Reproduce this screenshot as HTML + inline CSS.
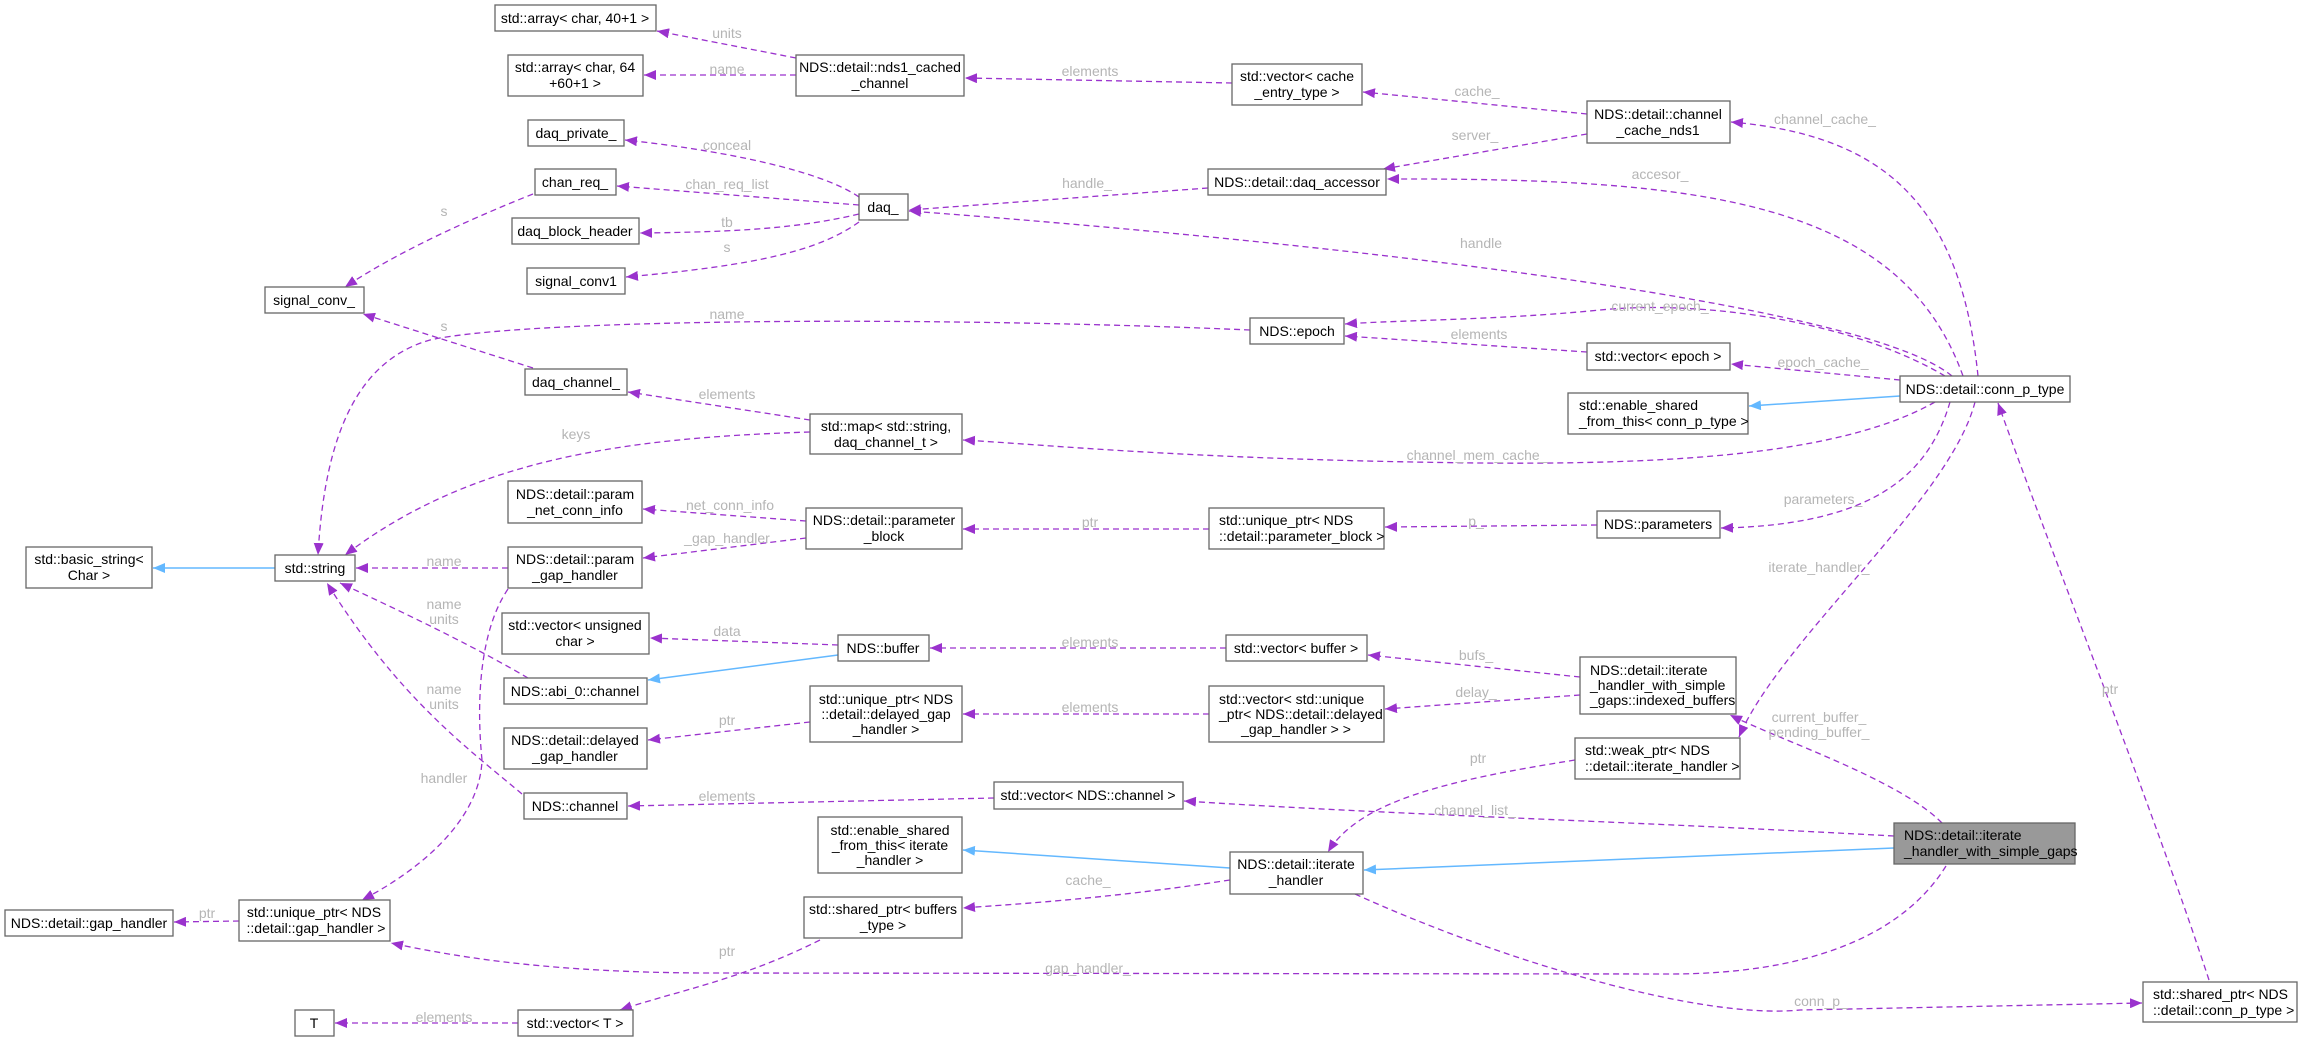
<!DOCTYPE html>
<html><head><meta charset="utf-8"><style>
html,body{margin:0;padding:0;background:#fff;}
svg{display:block;}
.b{fill:#fff;stroke:#666;stroke-width:1.3;}
.g{fill:#999;stroke:#666;stroke-width:1.3;}
.t{font-family:"Liberation Sans",Arial,sans-serif;font-size:14px;fill:#000;}
.c{text-anchor:middle;}
.l{font-family:"Liberation Sans",Arial,sans-serif;font-size:14px;fill:#b5b5b5;text-anchor:middle;}
.e{fill:none;stroke:#9a32cd;stroke-width:1.3;stroke-dasharray:6,4;marker-end:url(#pa);}
.i{fill:none;stroke:#63b8ff;stroke-width:1.5;marker-end:url(#ba);}
</style></head><body>
<svg width="2303" height="1042" viewBox="0 0 2303 1042" xmlns="http://www.w3.org/2000/svg">
<defs>
<marker id="pa" markerUnits="userSpaceOnUse" markerWidth="13" markerHeight="10" refX="12" refY="5" orient="auto"><path d="M0,0 L12,5 L0,10 z" fill="#9a32cd"/></marker>
<marker id="ba" markerUnits="userSpaceOnUse" markerWidth="13" markerHeight="10" refX="12" refY="5" orient="auto"><path d="M0,0 L12,5 L0,10 z" fill="#63b8ff"/></marker>
</defs>

<!-- edges -->
<path class="e" d="M796,58 L657,31"/>
<path class="e" d="M796,75 L644,75"/>
<path class="e" d="M1232,83 L965,78"/>
<path class="e" d="M1587,114 L1363,92"/>
<path class="e" d="M1587,134 L1383,169"/>
<path class="e" d="M1978,376 C1960,200 1880,135 1731,122"/>
<path class="e" d="M1963,376 C1900,200 1700,178 1387,179"/>
<path class="e" d="M1208,188 L909,210"/>
<path class="e" d="M1952,376 C1860,300 1300,240 909,211"/>
<path class="e" d="M859,197 C820,170 720,150 625,140"/>
<path class="e" d="M859,205 L617,186"/>
<path class="e" d="M859,214 C800,228 740,232 640,233"/>
<path class="e" d="M859,222 C820,250 760,265 626,277"/>
<path class="e" d="M533,194 C480,215 400,250 345,287"/>
<path class="e" d="M533,368 L363,314"/>
<path class="e" d="M810,420 L628,392"/>
<path class="e" d="M810,432 C620,438 470,460 345,555"/>
<path class="e" d="M1250,330 C900,315 520,320 430,340 C360,360 325,430 318,555"/>
<path class="e" d="M1945,376 C1850,320 1700,300 1600,310 S1400,320 1345,324"/>
<path class="e" d="M1587,352 L1345,336"/>
<path class="e" d="M1900,380 L1731,364"/>
<path class="i" d="M1900,396 L1749,406"/>
<path class="e" d="M1935,402 C1850,450 1700,465 1480,463 C1200,460 1050,445 963,440"/>
<path class="e" d="M1950,402 C1930,470 1880,525 1721,528"/>
<path class="e" d="M1597,525 L1385,527"/>
<path class="e" d="M1209,529 L963,529"/>
<path class="e" d="M806,521 L643,509"/>
<path class="e" d="M806,538 L643,558"/>
<path class="e" d="M508,568 L356,568"/>
<path class="i" d="M275,568 L153,568"/>
<path class="e" d="M508,589 C480,630 476,700 482,760 C480,820 420,870 362,900"/>
<path class="e" d="M528,678 C480,650 420,620 340,583"/>
<path class="e" d="M522,794 C470,750 400,700 327,583"/>
<path class="e" d="M838,645 L650,638"/>
<path class="i" d="M838,655 L648,680"/>
<path class="e" d="M1226,648 L930,648"/>
<path class="e" d="M1580,677 L1368,655"/>
<path class="e" d="M1580,695 L1385,709"/>
<path class="e" d="M1209,714 L963,714"/>
<path class="e" d="M810,722 L648,740"/>
<path class="e" d="M1975,402 C1950,500 1780,640 1739,737"/>
<path class="e" d="M1942,823 C1900,780 1780,740 1730,715"/>
<path class="e" d="M1575,760 C1450,780 1360,800 1328,852"/>
<path class="e" d="M1894,836 C1600,820 1400,815 1184,801"/>
<path class="e" d="M994,798 L628,806"/>
<path class="i" d="M1894,848 L1364,870"/>
<path class="i" d="M1230,868 L963,850"/>
<path class="e" d="M1230,880 C1100,900 1000,905 963,908"/>
<path class="e" d="M820,940 C740,980 680,990 620,1010"/>
<path class="e" d="M518,1023 L335,1023"/>
<path class="e" d="M239,921 L174,922"/>
<path class="e" d="M1946,866 C1900,940 1800,974 1670,974 L700,973 C560,972 470,960 391,943"/>
<path class="e" d="M1355,894 C1500,960 1700,1020 1800,1010 L2142,1003"/>
<path class="e" d="M2209,980 C2150,800 2050,550 1998,403"/>

<!-- labels -->
<text class="l" x="727" y="38">units</text>
<text class="l" x="727" y="74">name</text>
<text class="l" x="1090" y="76">elements</text>
<text class="l" x="1477" y="96">cache_</text>
<text class="l" x="1475" y="140">server_</text>
<text class="l" x="1825" y="124">channel_cache_</text>
<text class="l" x="1660" y="179">accesor_</text>
<text class="l" x="1087" y="188">handle_</text>
<text class="l" x="1481" y="248">handle</text>
<text class="l" x="727" y="150">conceal</text>
<text class="l" x="727" y="189">chan_req_list</text>
<text class="l" x="727" y="227">tb</text>
<text class="l" x="727" y="252">s</text>
<text class="l" x="444" y="216">s</text>
<text class="l" x="444" y="331">s</text>
<text class="l" x="727" y="319">name</text>
<text class="l" x="727" y="399">elements</text>
<text class="l" x="576" y="439">keys</text>
<text class="l" x="1660" y="311">current_epoch_</text>
<text class="l" x="1479" y="339">elements</text>
<text class="l" x="1823" y="367">epoch_cache_</text>
<text class="l" x="1477" y="460">channel_mem_cache_</text>
<text class="l" x="1823" y="504">parameters_</text>
<text class="l" x="1476" y="526">p_</text>
<text class="l" x="1090" y="527">ptr</text>
<text class="l" x="730" y="510">net_conn_info</text>
<text class="l" x="727" y="543">_gap_handler</text>
<text class="l" x="444" y="566">name</text>
<text class="l" x="444" y="609">name</text>
<text class="l" x="444" y="624">units</text>
<text class="l" x="444" y="694">name</text>
<text class="l" x="444" y="709">units</text>
<text class="l" x="444" y="783">handler</text>
<text class="l" x="727" y="636">data</text>
<text class="l" x="1090" y="647">elements</text>
<text class="l" x="1476" y="660">bufs_</text>
<text class="l" x="1476" y="697">delay_</text>
<text class="l" x="1090" y="712">elements</text>
<text class="l" x="727" y="725">ptr</text>
<text class="l" x="1819" y="572">iterate_handler_</text>
<text class="l" x="1819" y="722">current_buffer_</text>
<text class="l" x="1819" y="737">pending_buffer_</text>
<text class="l" x="1478" y="763">ptr</text>
<text class="l" x="1475" y="815">channel_list_</text>
<text class="l" x="727" y="801">elements</text>
<text class="l" x="1088" y="885">cache_</text>
<text class="l" x="727" y="956">ptr</text>
<text class="l" x="1088" y="973">gap_handler_</text>
<text class="l" x="1821" y="1006">conn_p_</text>
<text class="l" x="2110" y="694">ptr</text>
<text class="l" x="444" y="1022">elements</text>
<text class="l" x="207" y="918">ptr</text>

<!-- boxes -->
<rect class="b" x="495" y="5" width="161" height="26"/><text class="t c" x="575" y="23">std::array&lt; char, 40+1 &gt;</text>
<rect class="b" x="508" y="55" width="135" height="41"/><text class="t c" x="575" y="72">std::array&lt; char, 64</text><text class="t c" x="575" y="88">+60+1 &gt;</text>
<rect class="b" x="796" y="55" width="168" height="41"/><text class="t c" x="880" y="72">NDS::detail::nds1_cached</text><text class="t c" x="880" y="88">_channel</text>
<rect class="b" x="1232" y="64" width="130" height="41"/><text class="t c" x="1297" y="81">std::vector&lt; cache</text><text class="t c" x="1297" y="97">_entry_type &gt;</text>
<rect class="b" x="1587" y="101" width="143" height="42"/><text class="t c" x="1658" y="119">NDS::detail::channel</text><text class="t c" x="1658" y="135">_cache_nds1</text>
<rect class="b" x="1208" y="169" width="178" height="26"/><text class="t c" x="1297" y="187">NDS::detail::daq_accessor</text>
<rect class="b" x="528" y="120" width="96" height="26"/><text class="t c" x="576" y="138">daq_private_</text>
<rect class="b" x="535" y="169" width="81" height="26"/><text class="t c" x="575" y="187">chan_req_</text>
<rect class="b" x="512" y="218" width="127" height="26"/><text class="t c" x="575" y="236">daq_block_header</text>
<rect class="b" x="527" y="268" width="98" height="26"/><text class="t c" x="576" y="286">signal_conv1</text>
<rect class="b" x="265" y="287" width="99" height="26"/><text class="t c" x="314" y="305">signal_conv_</text>
<rect class="b" x="859" y="194" width="49" height="26"/><text class="t c" x="883" y="212">daq_</text>
<rect class="b" x="525" y="369" width="102" height="26"/><text class="t c" x="576" y="387">daq_channel_</text>
<rect class="b" x="810" y="414" width="152" height="40"/><text class="t c" x="886" y="431">std::map&lt; std::string,</text><text class="t c" x="886" y="447">daq_channel_t &gt;</text>
<rect class="b" x="1250" y="318" width="94" height="26"/><text class="t c" x="1297" y="336">NDS::epoch</text>
<rect class="b" x="1587" y="343" width="143" height="27"/><text class="t c" x="1658" y="361">std::vector&lt; epoch &gt;</text>
<rect class="b" x="1900" y="376" width="170" height="26"/><text class="t c" x="1985" y="394">NDS::detail::conn_p_type</text>
<rect class="b" x="1568" y="393" width="180" height="41"/><text class="t" x="1579" y="410">std::enable_shared</text><text class="t" x="1579" y="426">_from_this&lt; conn_p_type &gt;</text>
<rect class="b" x="508" y="481" width="134" height="42"/><text class="t c" x="575" y="499">NDS::detail::param</text><text class="t c" x="575" y="515">_net_conn_info</text>
<rect class="b" x="806" y="508" width="156" height="41"/><text class="t c" x="884" y="525">NDS::detail::parameter</text><text class="t c" x="884" y="541">_block</text>
<rect class="b" x="1209" y="508" width="175" height="41"/><text class="t" x="1219" y="525">std::unique_ptr&lt; NDS</text><text class="t" x="1219" y="541">::detail::parameter_block &gt;</text>
<rect class="b" x="1597" y="511" width="123" height="27"/><text class="t c" x="1658" y="529">NDS::parameters</text>
<rect class="b" x="26" y="547" width="126" height="41"/><text class="t c" x="89" y="564">std::basic_string&lt;</text><text class="t c" x="89" y="580">Char &gt;</text>
<rect class="b" x="275" y="555" width="80" height="26"/><text class="t c" x="315" y="573">std::string</text>
<rect class="b" x="508" y="547" width="134" height="41"/><text class="t c" x="575" y="564">NDS::detail::param</text><text class="t c" x="575" y="580">_gap_handler</text>
<rect class="b" x="502" y="613" width="147" height="41"/><text class="t c" x="575" y="630">std::vector&lt; unsigned</text><text class="t c" x="575" y="646">char &gt;</text>
<rect class="b" x="838" y="635" width="91" height="26"/><text class="t c" x="883" y="653">NDS::buffer</text>
<rect class="b" x="504" y="678" width="143" height="26"/><text class="t c" x="575" y="696">NDS::abi_0::channel</text>
<rect class="b" x="1226" y="635" width="141" height="26"/><text class="t c" x="1296" y="653">std::vector&lt; buffer &gt;</text>
<rect class="b" x="1580" y="657" width="156" height="57"/><text class="t" x="1590" y="675">NDS::detail::iterate</text><text class="t" x="1590" y="690">_handler_with_simple</text><text class="t" x="1590" y="705">_gaps::indexed_buffers</text>
<rect class="b" x="810" y="686" width="152" height="56"/><text class="t c" x="886" y="704">std::unique_ptr&lt; NDS</text><text class="t c" x="886" y="719">::detail::delayed_gap</text><text class="t c" x="886" y="734">_handler &gt;</text>
<rect class="b" x="1209" y="686" width="175" height="56"/><text class="t" x="1219" y="704">std::vector&lt; std::unique</text><text class="t" x="1219" y="719">_ptr&lt; NDS::detail::delayed</text><text class="t c" x="1296" y="734">_gap_handler &gt; &gt;</text>
<rect class="b" x="504" y="728" width="143" height="41"/><text class="t c" x="575" y="745">NDS::detail::delayed</text><text class="t c" x="575" y="761">_gap_handler</text>
<rect class="b" x="1575" y="738" width="165" height="41"/><text class="t" x="1585" y="755">std::weak_ptr&lt; NDS</text><text class="t" x="1585" y="771">::detail::iterate_handler &gt;</text>
<rect class="b" x="524" y="793" width="103" height="26"/><text class="t c" x="575" y="811">NDS::channel</text>
<rect class="b" x="994" y="782" width="189" height="27"/><text class="t c" x="1088" y="800">std::vector&lt; NDS::channel &gt;</text>
<rect class="b" x="818" y="817" width="144" height="56"/><text class="t c" x="890" y="835">std::enable_shared</text><text class="t c" x="890" y="850">_from_this&lt; iterate</text><text class="t c" x="890" y="865">_handler &gt;</text>
<rect class="g" x="1894" y="823" width="181" height="41"/><text class="t" x="1904" y="840">NDS::detail::iterate</text><text class="t" x="1904" y="856">_handler_with_simple_gaps</text>
<rect class="b" x="1230" y="852" width="133" height="42"/><text class="t c" x="1296" y="869">NDS::detail::iterate</text><text class="t c" x="1296" y="885">_handler</text>
<rect class="b" x="804" y="897" width="158" height="41"/><text class="t c" x="883" y="914">std::shared_ptr&lt; buffers</text><text class="t c" x="883" y="930">_type &gt;</text>
<rect class="b" x="5" y="910" width="168" height="26"/><text class="t c" x="89" y="928">NDS::detail::gap_handler</text>
<rect class="b" x="239" y="900" width="151" height="41"/><text class="t c" x="314" y="917">std::unique_ptr&lt; NDS</text><text class="t c" x="316" y="933">::detail::gap_handler &gt;</text>
<rect class="b" x="295" y="1010" width="39" height="26"/><text class="t c" x="314" y="1028">T</text>
<rect class="b" x="518" y="1010" width="115" height="26"/><text class="t c" x="575" y="1028">std::vector&lt; T &gt;</text>
<rect class="b" x="2143" y="982" width="154" height="40"/><text class="t" x="2153" y="999">std::shared_ptr&lt; NDS</text><text class="t" x="2153" y="1015">::detail::conn_p_type &gt;</text>
</svg>
</body></html>
